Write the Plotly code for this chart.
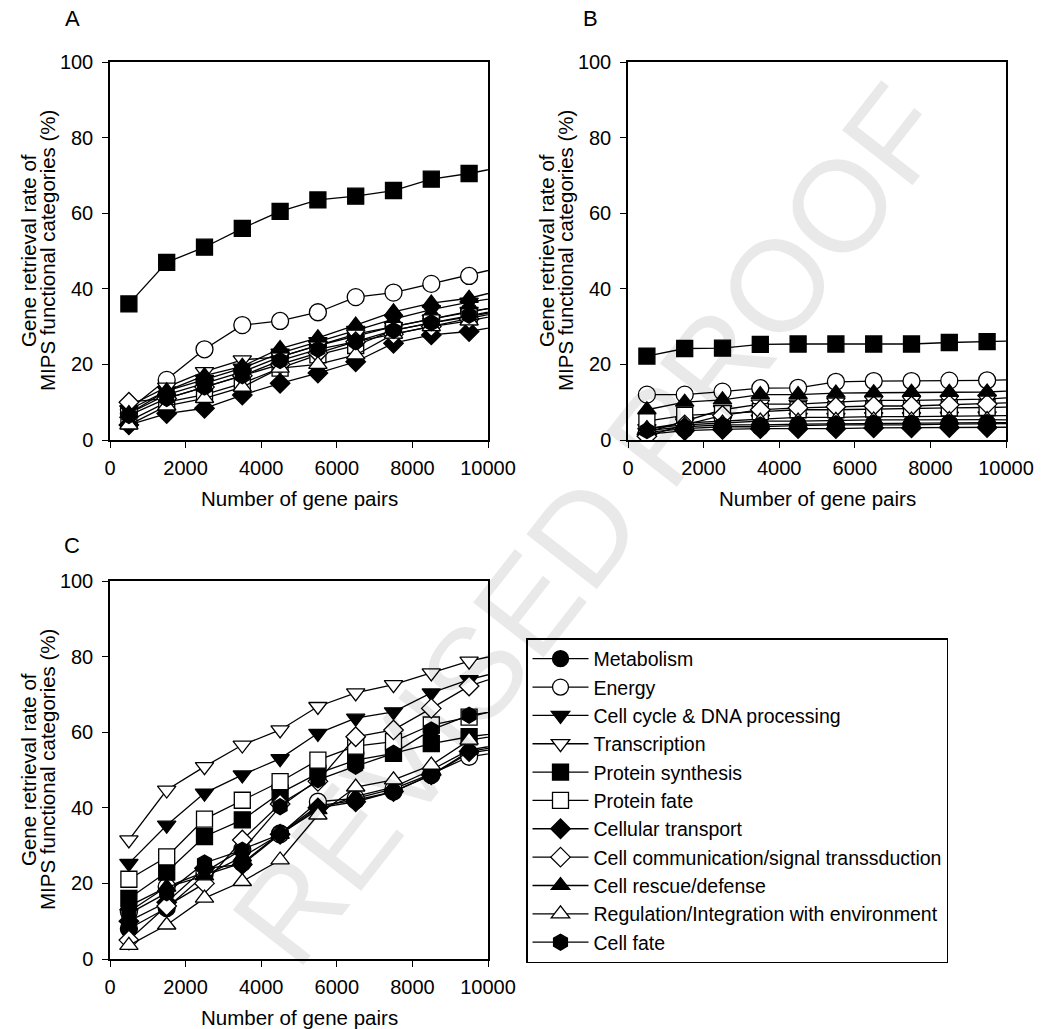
import plotly.graph_objects as go

# ---------------- data ----------------
gene_pairs = [500, 1500, 2500, 3500, 4500, 5500, 6500, 7500, 8500, 9500, 10500]

categories = [
    "Metabolism",
    "Energy",
    "Cell cycle & DNA processing",
    "Transcription",
    "Protein synthesis",
    "Protein fate",
    "Cellular transport",
    "Cell communication/signal transsduction",
    "Cell rescue/defense",
    "Regulation/Integration with environment",
    "Cell fate",
]

# Panel A
a_metabolism = [7, 12, 15, 18, 22, 25, 27.5, 30, 32, 34, 35.7]
a_energy = [8, 15.9, 24, 30.4, 31.5, 33.8, 37.8, 39, 41.3, 43.4, 46]
a_cell_cycle = [8, 13, 16, 19, 23, 26, 29, 32, 34.5, 36.5, 38]
a_transcription = [9, 14, 18.1, 21.2, 22, 25, 28, 30, 32, 34, 35.5]
a_protein_synthesis = [36, 47, 51, 56, 60.5, 63.5, 64.5, 66, 69, 70.5, 72.5]
a_protein_fate = [5, 10, 12, 15, 19, 22.5, 25, 29, 31, 32.6, 34.6]
a_cellular_transport = [4, 7, 8.4, 11.9, 15, 17.7, 20.7, 25.6, 27.8, 28.7, 30.5]
a_cell_communication = [10, 11, 14, 17, 20, 23, 26, 28, 30, 32, 34.2]
a_cell_rescue = [7, 13, 17, 19.5, 24.2, 27, 30.4, 33.9, 36.2, 37.5, 40]
a_regulation = [4, 9, 11, 14, 19, 20, 22.5, 28, 30, 31.5, 33.5]
a_cell_fate = [6.5, 11, 14, 17, 21, 24, 26, 29, 31, 33, 34.8]

# Panel B
b_metabolism = [2, 3, 3.5, 3.5, 3.8, 4, 4, 4, 4.2, 4.3, 4.4]
b_energy = [12, 12, 12.8, 13.7, 13.8, 15.4, 15.6, 15.6, 15.7, 15.8, 16]
b_cell_cycle = [3, 4.5, 5, 5.5, 6, 6, 6.2, 6.2, 6.3, 6.4, 6.5]
b_transcription = [2, 5, 8, 9.5, 9.5, 10, 10.5, 10.5, 10.6, 10.8, 11.5]
b_protein_synthesis = [22.2, 24.2, 24.3, 25.3, 25.4, 25.4, 25.4, 25.4, 25.8, 26, 26.3]
b_protein_fate = [5, 6.5, 7, 7.5, 8, 8, 8.2, 8.3, 8.5, 8.6, 8.8]
b_cellular_transport = [1.5, 2.5, 2.8, 3, 3, 3, 3.2, 3.2, 3.3, 3.3, 3.4]
b_cell_communication = [1, 4, 6.5, 8, 8.5, 8.8, 9, 9, 9.3, 9.5, 10]
b_cell_rescue = [8, 10, 10.6, 12, 12, 12.4, 12.5, 12.6, 12.6, 12.7, 13.2]
b_regulation = [3, 4, 4.5, 5, 5, 5.2, 5.3, 5.3, 5.4, 5.4, 5.3]
b_cell_fate = [2.5, 3.5, 4, 4, 4.2, 4.3, 4.5, 4.5, 4.6, 4.6, 4.6]

# Panel C
c_metabolism = [8, 13.5, 22.2, 25.4, 33.2, 40.5, 42, 44.3, 48.7, 54.5, 56]
c_energy = [12.5, 19.1, 23, 29, 33, 41.6, 42.5, 45, 49, 53.5, 55]
c_cell_cycle = [25.3, 35.4, 43.9, 48.7, 53, 59.7, 63.7, 65.4, 70.4, 73.9, 76.5]
c_transcription = [31.5, 44.7, 50.9, 56.6, 60.6, 66.8, 70.4, 72.6, 75.7, 78.8, 81]
c_protein_synthesis = [16, 23, 32.4, 36.8, 43.9, 49.1, 52.6, 54.4, 57, 58.8, 60]
c_protein_fate = [21.1, 27, 37, 42, 46.9, 52.6, 56.3, 57.5, 61.9, 64, 66.5]
c_cellular_transport = [10, 15, 24, 25, 33, 40, 41.6, 44.3, 48.7, 54.9, 56.5]
c_cell_communication = [5, 14, 20, 31.5, 41, 47, 58.8, 60.6, 66.3, 72.2, 75.5]
c_cell_rescue = [14, 19, 22, 27, 33, 39.5, 43, 45.5, 50, 55.3, 57]
c_regulation = [3.6, 9, 16.1, 20.5, 26.2, 38.1, 45.5, 47.4, 51.3, 57.9, 59.5]
c_cell_fate = [12, 17.5, 25.4, 28.8, 40.3, 47.4, 51, 54.4, 60.6, 64.5, 66]

panel_a = [a_metabolism, a_energy, a_cell_cycle, a_transcription, a_protein_synthesis,
           a_protein_fate, a_cellular_transport, a_cell_communication, a_cell_rescue,
           a_regulation, a_cell_fate]
panel_b = [b_metabolism, b_energy, b_cell_cycle, b_transcription, b_protein_synthesis,
           b_protein_fate, b_cellular_transport, b_cell_communication, b_cell_rescue,
           b_regulation, b_cell_fate]
panel_c = [c_metabolism, c_energy, c_cell_cycle, c_transcription, c_protein_synthesis,
           c_protein_fate, c_cellular_transport, c_cell_communication, c_cell_rescue,
           c_regulation, c_cell_fate]

x_ticks = [0, 2000, 4000, 6000, 8000, 10000]
y_ticks = [0, 20, 40, 60, 80, 100]

# ---------------- styles ----------------
symbols = ["circle", "circle", "triangle-down", "triangle-down", "square", "square",
           "diamond", "diamond", "triangle-up", "triangle-up", "hexagon"]
fills = ["black", "white", "black", "white", "black", "white",
         "black", "white", "black", "white", "black"]
sizes = [17, 17, 16, 16, 16, 16, 15, 15, 16, 16, 16]

FONT = "Arial, Liberation Sans, Helvetica, sans-serif"
W, H = 1041, 1029

fig = go.Figure()

panels = [
    ("x", "y", panel_a, False),
    ("x2", "y2", panel_b, False),
    ("x3", "y3", panel_c, True),
]

for xa, ya, data, show in panels:
    for i, name in enumerate(categories):
        fig.add_trace(go.Scatter(
            x=gene_pairs, y=data[i], name=name, xaxis=xa, yaxis=ya,
            mode="lines+markers",
            line=dict(color="black", width=1.3),
            marker=dict(symbol=symbols[i], size=sizes[i], color=fills[i],
                        line=dict(color="black", width=1.3)),
            showlegend=show,
        ))

def px_x(p):
    return p / W

def px_y(p):
    return 1 - p / H

axis_common = dict(
    showline=True, linecolor="black", linewidth=1.5, mirror=True,
    ticks="outside", ticklen=6, tickwidth=1.3, tickcolor="black",
    showgrid=False, zeroline=False, tickformat="d",
    tickfont=dict(family=FONT, size=20, color="black"),
)

# domains (pixel positions converted to paper fractions)
ax_a = dict(x=(110, 488), y=(62, 440))
ax_b = dict(x=(628, 1006), y=(62, 440))
ax_c = dict(x=(110, 488), y=(581, 959))

def xdom(a):
    return [px_x(a["x"][0]), px_x(a["x"][1])]

def ydom(a):
    return [px_y(a["y"][1]), px_y(a["y"][0])]

layout_axes = {}
for suffix, a in (("", ax_a), ("2", ax_b), ("3", ax_c)):
    layout_axes["xaxis" + suffix] = dict(
        axis_common, domain=xdom(a), range=[0, 10000], tickvals=x_ticks,
        anchor="y" + suffix, ticklabelstandoff=3, automargin=False,
    )
    layout_axes["yaxis" + suffix] = dict(
        axis_common, domain=ydom(a), range=[0, 100], tickvals=y_ticks,
        anchor="x" + suffix, ticklabelstandoff=5, automargin=False,
    )

fig.update_layout(**layout_axes)

annotations = []
txt_font = dict(family=FONT, size=20.5, color="black")
# panel letters
for letter, (px, py) in (("A", (72, 18)), ("B", (590, 18)), ("C", (72, 545))):
    annotations.append(dict(text=letter, x=px_x(px), y=px_y(py), xref="paper", yref="paper",
                            showarrow=False, xanchor="center", yanchor="middle",
                            font=dict(family=FONT, size=22, color="black")))
# x titles
for a in (ax_a, ax_b, ax_c):
    annotations.append(dict(text="Number of gene pairs",
                            x=px_x((a["x"][0] + a["x"][1]) / 2), y=px_y(a["y"][1] + 58),
                            xref="paper", yref="paper", showarrow=False,
                            xanchor="center", yanchor="middle", font=txt_font))
# y titles (two lines)
for a, x1, x2 in ((ax_a, 28, 47), (ax_b, 546, 565), (ax_c, 28, 47)):
    ymid = px_y((a["y"][0] + a["y"][1]) / 2)
    annotations.append(dict(text="Gene retrieval rate of", x=px_x(x1), y=ymid,
                            xref="paper", yref="paper", showarrow=False, textangle=-90,
                            xanchor="center", yanchor="middle", font=txt_font))
    annotations.append(dict(text="MIPS functional categories (%)", x=px_x(x2), y=ymid,
                            xref="paper", yref="paper", showarrow=False, textangle=-90,
                            xanchor="center", yanchor="middle", font=txt_font))
# watermark
annotations.append(dict(text="REVISED PROOF", x=px_x(590), y=px_y(525),
                        xref="paper", yref="paper", showarrow=False, textangle=-52,
                        xanchor="center", yanchor="middle",
                        font=dict(family=FONT, size=130, color="rgba(0,0,0,0.085)")))

fig.update_layout(
    autosize=True,
    margin=dict(l=0, r=0, t=0, b=0, autoexpand=False),
    paper_bgcolor="white", plot_bgcolor="white",
    font=dict(family=FONT, size=20, color="black"),
    annotations=annotations,
    legend=dict(
        x=px_x(526), y=px_y(638), xanchor="left", yanchor="top",
        bordercolor="black", borderwidth=1.5, bgcolor="white",
        font=dict(family=FONT, size=19.5, color="black"),
        tracegroupgap=0, itemsizing="trace", itemwidth=56,
    ),
)

fig.write_html(
    "out.html",
    default_width="100vw",
    default_height="100vh",
    config={"displayModeBar": False, "responsive": True},
    post_script="document.body.style.margin='0';document.body.style.overflow='hidden';",
)
